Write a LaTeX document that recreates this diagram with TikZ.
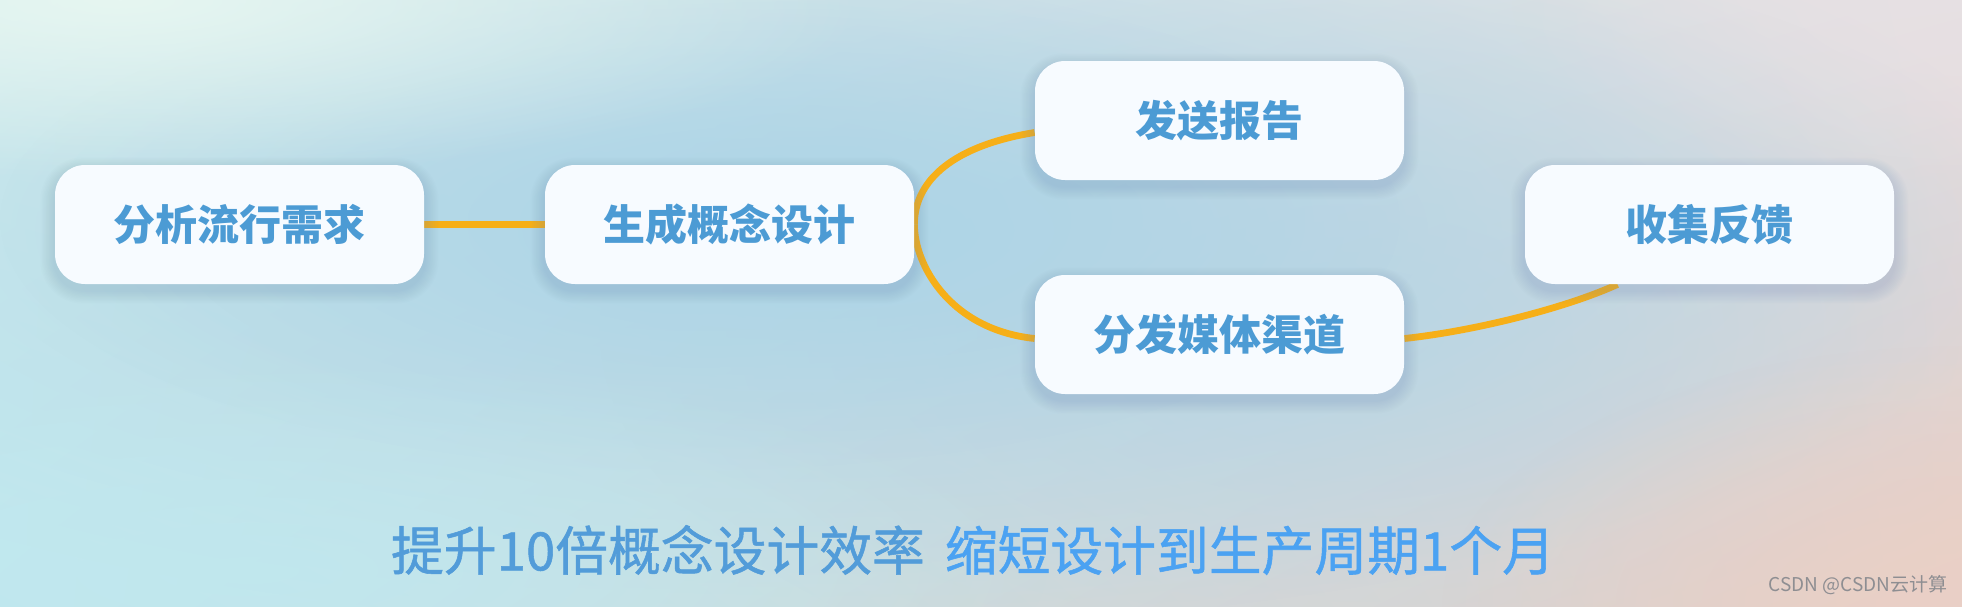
\documentclass[tikz,border=0pt]{standalone}
\usepackage{fontspec}
\setmainfont{Noto Sans CJK SC}
\newfontfamily\cjk{Noto Sans CJK SC}
\newfontfamily\cjkmed{Noto Sans CJK SC}[FakeBold=1]
\usetikzlibrary{calc,fadings,shadings}
\definecolor{bgUL}{HTML}{D9F0EE}
\definecolor{bgUR}{HTML}{E6E0E3}
\definecolor{bgLL}{HTML}{BFE7EE}
\definecolor{bgLR}{HTML}{E6CEC6}
\definecolor{blobblue}{HTML}{ADD5E7}
\definecolor{blobmint}{HTML}{E6F6F1}
\definecolor{blobcyan}{HTML}{C0E8EF}
\definecolor{blobpeach}{HTML}{EAD0C6}
\definecolor{blobsteel}{HTML}{C3D6E2}
\definecolor{boxfill}{HTML}{F7FBFF}
\definecolor{boxtext}{HTML}{4C9BD4}
\definecolor{linkc}{HTML}{F6AF18}
\definecolor{shadowc}{HTML}{7590B4}
\definecolor{capA}{HTML}{529CD9}
\definecolor{capB}{HTML}{4BA2F2}
\definecolor{wmark}{HTML}{8E8E92}
\pgfdeclarelayer{back}
\pgfdeclarelayer{links}
\pgfdeclarelayer{shadows}
\pgfsetlayers{back,links,shadows,main}
\tikzfading[name=blobfade, inner color=transparent!0, outer color=transparent!100]
\newcommand\softshadow[1]{%
  \foreach \k in {1,...,10}{%
    \pgfmathsetmacro\rr{15+\k*0.6}%
    \fill[shadowc, opacity=0.022, rounded corners=\rr pt]
      ($(#1.south west)+(-\k*1.4, 6+\k*1.3)$) rectangle ($(#1.north east)+(\k*1.4, 6-\k*1.3)$);
  }}
\begin{document}
\begin{tikzpicture}[x=0.5pt,y=-0.5pt,
  stepbox/.style={rounded corners=15pt, fill=boxfill, minimum width=184.5pt,
    minimum height=59.5pt, inner sep=0pt, text=boxtext,
    font=\cjk\fontsize{21pt}{25pt}\selectfont\bfseries},
  link/.style={draw=linkc, line width=3.4pt},
  blob/.style={path fading=blobfade}]
\useasboundingbox (0,0) rectangle (1962,606);
% background
\begin{pgfonlayer}{back}
\shade[upper left=bgUL, upper right=bgUR, lower left=bgLL, lower right=bgLR] (0,0) rectangle (1962,606);
\fill[blobsteel, blob, opacity=0.9] (1350,330) ellipse (750 and 380);
\fill[blobblue, blob] (800,230) ellipse (1250 and 400);
\fill[blobblue, blob, opacity=0.6] (700,220) ellipse (700 and 250);
\fill[blobmint, blob] (120,0) ellipse (750 and 180);
\fill[blobcyan, blob, opacity=0.85] (250,570) ellipse (800 and 220);
\fill[blobpeach, blob] (1962,606) ellipse (520 and 260);
\fill[bgUR, blob, opacity=0.8] (1962,0) ellipse (450 and 200);
\end{pgfonlayer}
% boxes
\node[stepbox] (b1) at (239.5,224.5) {分析流行需求};
\node[stepbox] (b2) at (729.5,224.5) {生成概念设计};
\node[stepbox] (b3) at (1219.5,120.5) {发送报告};
\node[stepbox] (b4) at (1219.5,334.5) {分发媒体渠道};
\node[stepbox] (b5) at (1709.5,224.5) {收集反馈};
\begin{pgfonlayer}{shadows}
\softshadow{b1}\softshadow{b2}\softshadow{b3}\softshadow{b4}\softshadow{b5}
\end{pgfonlayer}
% connectors
\coordinate (e3) at ($(b3.west)+(0,12)$);
\coordinate (e4) at ($(b4.west)+(0,4)$);
\coordinate (s4) at ($(b4.east)+(0,4)$);
\coordinate (e5) at ($(b5.south)+(-92,0)$);
\begin{pgfonlayer}{links}
\draw[link] (b1.east) -- (b2.west);
\draw[link] (b2.east) .. controls +(0,-45) and +(-80,13) .. (e3);
\draw[link] (b2.east) .. controls +(0,40) and +(-85,-9) .. (e4);
\draw[link] (s4) .. controls +(66,-7) and +(-55,25) .. (e5);
\end{pgfonlayer}
% caption
\node[inner sep=0pt, font=\cjkmed\fontsize{26.4pt}{30pt}\selectfont] (cap) at (973,550)
  {\textcolor{capA}{提升10倍概念设计效率}\hspace{10pt}\textcolor{capB}{缩短设计到生产周期1个月}};
\node[inner sep=0pt, font=\cjk\fontsize{9.5pt}{11pt}\selectfont, text=wmark] (wm) at (1858,585) {CSDN @CSDN云计算};
\end{tikzpicture}
\end{document}
